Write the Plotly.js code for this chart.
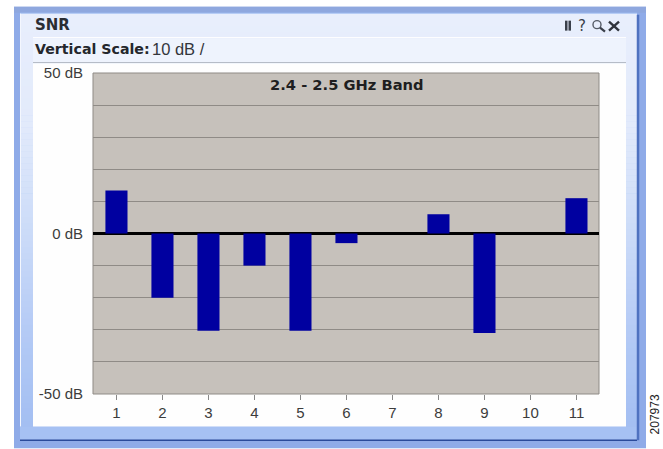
<!DOCTYPE html>
<html><head><meta charset="utf-8"><script src="https://cdn.plot.ly/plotly-3.0.1.min.js"></script>
<style>html,body{margin:0;padding:0;background:#fff;overflow:hidden}#c{width:663px;height:449px}</style></head>
<body><div id="c"></div><script>
const channels=[1,2,3,4,5,6,7,8,9,10,11];
const snr=[13.4,-20,-30.3,-10,-30.3,-3,0,6,-31,0,11];
const gridVals=[-50,-40,-30,-20,-10,0,10,20,30,40,50];
const gridText=['-50 dB','','','','','0 dB','','','','','50 dB'];
const W=663,H=449,L=93,R=599,T=72.5,B=394.5;
const px=x=>(x-L)/(R-L), py=y=>(B-y)/(B-T);
const rect=(x0,y0,x1,y1,fill,line)=>({type:'rect',xref:'paper',yref:'paper',x0:px(x0),x1:px(x1),y0:py(y0),y1:py(y1),fillcolor:fill,line:line||{width:0},layer:'below'});
const seg=(x0,y0,x1,y1,color,width,layer)=>({type:'line',xref:'paper',yref:'paper',x0:px(x0),x1:px(x1),y0:py(y0),y1:py(y1),line:{color,width},layer:layer||'below'});
const note=(x,y,text,size,color,anchor,extra)=>Object.assign({xref:'paper',yref:'paper',x:px(x),y:py(y),text,showarrow:false,xanchor:anchor||'left',yanchor:'middle',font:{family:'Liberation Sans, Arial, sans-serif',size,color}},extra||{});
const bold='DejaVu Sans, sans-serif';
const gradient=[];
const stops=[[13,232,238,252],[120,226,234,251],[230,203,219,248],[340,178,201,245],[427,163,190,242]];
for(let y=13;y<427;y+=6){
  let i=0;while(stops[i+1][0]<y)i++;
  const a=stops[i],b=stops[i+1],t=(y-a[0])/(b[0]-a[0]);
  const c=[1,2,3].map(k=>Math.round(a[k]+(b[k]-a[k])*t));
  gradient.push(rect(20,y,637,y+6.5,`rgb(${c.join(',')})`));
}
const shapes=[
 rect(14,6,646,449,'#8fabe8'),
 rect(14,6,646,12,'#8ea7de'),
 rect(20,12,637,441,'#a6c1f3'),
 ...gradient,
 seg(20,441,637,441,'#2a4a9a',1.5),
 seg(638,14,638,441,'#4f72c0',2.5),
 seg(20.5,13,20.5,427,'#f4f7fe',1),
 rect(33,38,626,63,'#eef3fd'),
 seg(33,37,626,37,'#ffffff',1),
 seg(33,62,626,62,'#b4bac6',1),
 rect(33,63,626,427,'#fefefe'),
 rect(L,T,R,B,'#c6c1bb',{color:'#8f8b86',width:1}),
 rect(565,20,567.5,30,'#3a3f4a'),
 rect(568.5,20,571,30,'#3a3f4a'),
 {type:'circle',xref:'paper',yref:'paper',x0:px(593),x1:px(601),y0:py(20),y1:py(28),line:{color:'#555b66',width:1.4},fillcolor:'rgba(0,0,0,0)',layer:'below'},
 seg(600,27,605,31,'#3a3f4a',2.2),
 seg(609,21,619,30,'#30343c',2.4),
 seg(619,21,609,30,'#30343c',2.4),
];
const annotations=[
 note(33,24,'<b>SNR</b>',15,'#2a2d33',undefined,{font:{family:bold,size:15,color:'#2a2d33'}}),
 note(33,48.5,'<b>Vertical Scale:</b>',14.2,'#24272c',undefined,{font:{family:bold,size:14.2,color:'#24272c'}}),
 note(150,48.5,'10 dB /',16.5,'#33363c'),
 note(582,25,'?',17,'#3a3f4a','center',{font:{family:bold,size:15,color:'#3a3f4a'}}),
 note(347,84,'<b>2.4 - 2.5 GHz Band</b>',14.7,'#1e1e20','center',{font:{family:bold,size:14.7,color:'#1e1e20'}}),
 note(655,415,'207973',12,'#222','center',{textangle:-90}),
];
Plotly.newPlot('c',[{type:'bar',x:channels,y:snr,width:0.48,marker:{color:'#0000a0',line:{width:0}},hoverinfo:'x+y'}],{
 width:W,height:H,showlegend:false,
 margin:{l:L,r:W-R,t:T,b:H-B,pad:0},
 paper_bgcolor:'#ffffff',plot_bgcolor:'#c6c1bb',
 font:{family:'Liberation Sans, Arial, sans-serif',size:15,color:'#3c3c3c'},
 xaxis:{range:[0.49,11.49],tickvals:channels,ticktext:channels.map(String),ticks:'outside',ticklen:5,tickwidth:1,tickcolor:'#888',showgrid:false,zeroline:false,showline:false,fixedrange:true,tickfont:{size:15,color:'#3c3c3c'}},
 yaxis:{range:[-50,50],tickvals:gridVals,ticktext:gridText,ticks:'',showgrid:true,gridcolor:'#8f8b86',gridwidth:1.2,zeroline:true,zerolinecolor:'#000000',zerolinewidth:2.5,showline:false,fixedrange:true,tickfont:{size:15,color:'#3c3c3c'},ticklabelstandoff:9},
 shapes,annotations,bargap:0.5
},{displayModeBar:false,staticPlot:true});
</script></body></html>
